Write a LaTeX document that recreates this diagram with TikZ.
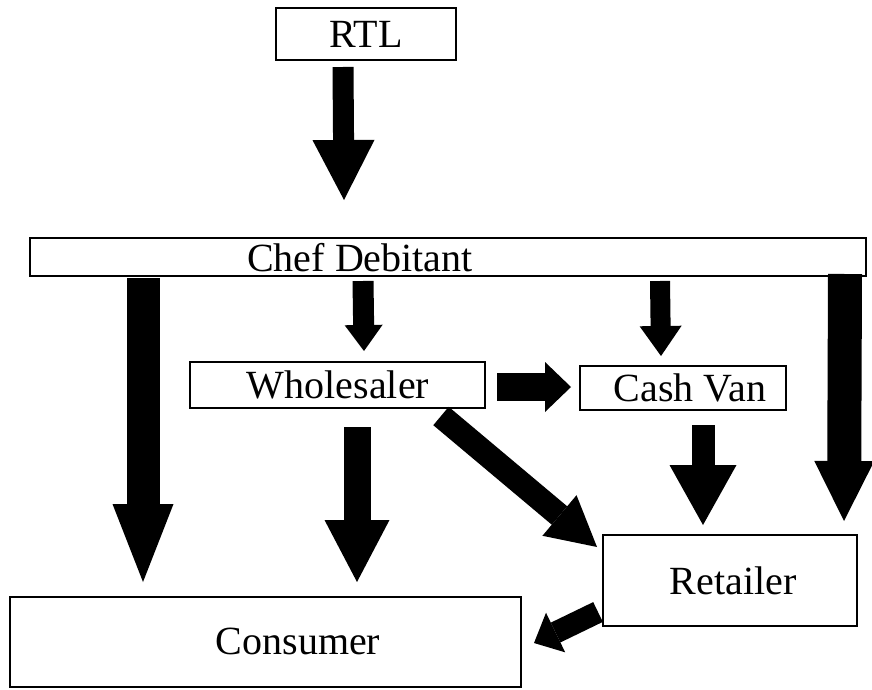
\documentclass[tikz,border=0pt]{standalone}
\usepackage{fontspec}
\setmainfont{Liberation Serif}
\usetikzlibrary{arrows.meta}

\tikzset{
  box/.style={draw=black, line width=1.4pt, fill=white},
  lbl/.style={font=\fontsize{40}{44}\selectfont, inner sep=0pt},
  % block arrow: shaft width, head width, head length
  blk/.style n args={3}{draw=black, line width=#1pt,
    -{Triangle[width=#2pt, length=#3pt, line width=0pt]}}
}

\begin{document}
\begin{tikzpicture}[x=1pt, y=-1pt]
\useasboundingbox (0,0) rectangle (872,690);

% boxes
\draw[box] (276,8)   rectangle (456,60)  coordinate[pos=.5] (rtl);
\draw[box] (30,238)  rectangle (866,276) coordinate[pos=.5] (chef);
\draw[box] (190,362) rectangle (485,408) coordinate[pos=.5] (whole);
\draw[box] (580,366) rectangle (786,410) coordinate[pos=.5] (van);
\draw[box] (603,535) rectangle (857,626) coordinate[pos=.5] (ret);
\draw[box] (10,597)  rectangle (521,687) coordinate[pos=.5] (cons);

% labels
\node[lbl] (rtlT)   at (366,34)  {RTL};
\node[lbl] (chefT)  at (360,258) {Chef Debitant};
\node[lbl] (wholeT) at (338,385) {Wholesaler};
\node[lbl] (vanT)   at (690,388) {Cash Van};
\node[lbl] (retT)   at (733,581) {Retailer};
\node[lbl] (consT)  at (298,641) {Consumer};

% arrow ends
\coordinate (rtl-out)     at (343,67);
\coordinate (chef-in)     at (344,200);
\coordinate (chef-l)      at (143,278);
\coordinate (cons-l)      at (143,582);
\coordinate (chef-r)      at (845,274);
\coordinate (ret-r)       at (844,521);
\coordinate (chef-w)      at (363,281);
\coordinate (whole-in)    at (364,351);
\coordinate (chef-v)      at (660,281);
\coordinate (van-in)      at (661,356);
\coordinate (whole-r)     at (497,387);
\coordinate (van-l)       at (571,387);
\coordinate (whole-d)     at (357,427);
\coordinate (cons-m)      at (357,582);
\coordinate (van-d)       at (703,425);
\coordinate (ret-t)       at (703,525);
\coordinate (whole-diag)  at (441,416);
\coordinate (ret-l)       at (597,547);
\coordinate (ret-out)     at (598,612);
\coordinate (cons-r)      at (534,643);

% flows
\draw[blk={21}{62}{60}] (rtl-out)    -- (chef-in);
\draw[blk={33}{61}{78}] (chef-l)     -- (cons-l);
\draw[blk={34}{60}{60}] (chef-r)     -- (ret-r);
\draw[blk={21}{38}{26}] (chef-w)     -- (whole-in);
\draw[blk={20}{42}{30}] (chef-v)     -- (van-in);
\draw[blk={28}{50}{26}] (whole-r)    -- (van-l);
\draw[blk={27}{65}{62}] (whole-d)    -- (cons-m);
\draw[blk={23}{67}{60}] (van-d)      -- (ret-t);
\draw[blk={24}{53}{49}] (whole-diag) -- (ret-l);
\draw[blk={22}{44}{24}] (ret-out)    -- (cons-r);
\end{tikzpicture}
\end{document}
